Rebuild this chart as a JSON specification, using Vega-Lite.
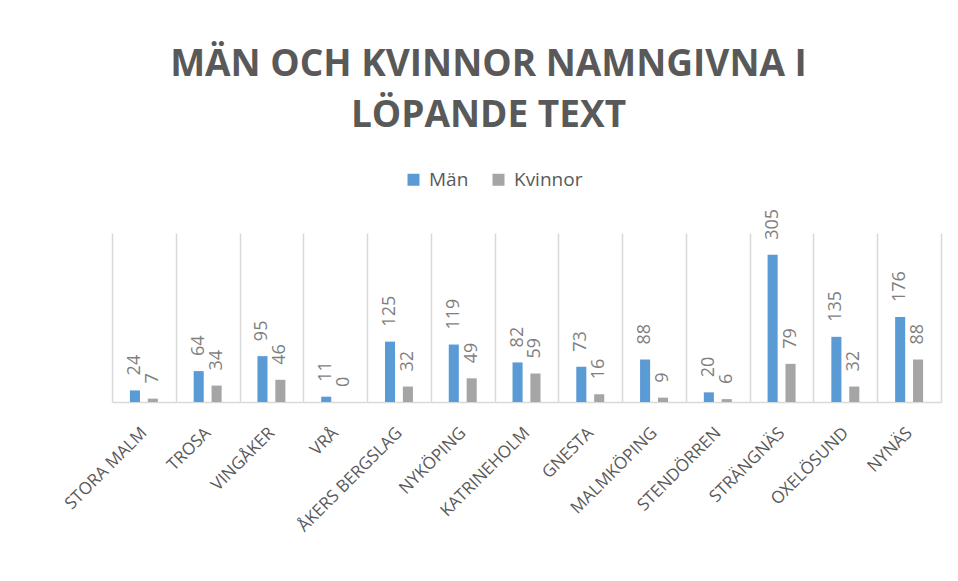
{
  "$schema": "https://vega.github.io/schema/vega-lite/v6.json",
  "width": 829,
  "height": 169,
  "autosize": {"type": "none"},
  "padding": {"left": 112, "top": 233, "right": 17, "bottom": 179},
  "background": "white",
  "title": {
    "text": ["MÄN OCH KVINNOR NAMNGIVNA I", "LÖPANDE TEXT"],
    "font": "Open Sans",
    "fontSize": 37,
    "fontWeight": "bold",
    "color": "#595959",
    "anchor": "middle",
    "lineHeight": 51.5,
    "offset": 35,
    "dx": -38
  },
  "data": {
    "values": [
      {"kommun": "STORA MALM", "kon": "Män", "antal": 24},
      {"kommun": "STORA MALM", "kon": "Kvinnor", "antal": 7},
      {"kommun": "TROSA", "kon": "Män", "antal": 64},
      {"kommun": "TROSA", "kon": "Kvinnor", "antal": 34},
      {"kommun": "VINGÅKER", "kon": "Män", "antal": 95},
      {"kommun": "VINGÅKER", "kon": "Kvinnor", "antal": 46},
      {"kommun": "VRÅ", "kon": "Män", "antal": 11},
      {"kommun": "VRÅ", "kon": "Kvinnor", "antal": 0},
      {"kommun": "ÅKERS BERGSLAG", "kon": "Män", "antal": 125},
      {"kommun": "ÅKERS BERGSLAG", "kon": "Kvinnor", "antal": 32},
      {"kommun": "NYKÖPING", "kon": "Män", "antal": 119},
      {"kommun": "NYKÖPING", "kon": "Kvinnor", "antal": 49},
      {"kommun": "KATRINEHOLM", "kon": "Män", "antal": 82},
      {"kommun": "KATRINEHOLM", "kon": "Kvinnor", "antal": 59},
      {"kommun": "GNESTA", "kon": "Män", "antal": 73},
      {"kommun": "GNESTA", "kon": "Kvinnor", "antal": 16},
      {"kommun": "MALMKÖPING", "kon": "Män", "antal": 88},
      {"kommun": "MALMKÖPING", "kon": "Kvinnor", "antal": 9},
      {"kommun": "STENDÖRREN", "kon": "Män", "antal": 20},
      {"kommun": "STENDÖRREN", "kon": "Kvinnor", "antal": 6},
      {"kommun": "STRÄNGNÄS", "kon": "Män", "antal": 305},
      {"kommun": "STRÄNGNÄS", "kon": "Kvinnor", "antal": 79},
      {"kommun": "OXELÖSUND", "kon": "Män", "antal": 135},
      {"kommun": "OXELÖSUND", "kon": "Kvinnor", "antal": 32},
      {"kommun": "NYNÄS", "kon": "Män", "antal": 176},
      {"kommun": "NYNÄS", "kon": "Kvinnor", "antal": 88}
    ]
  },
  "encoding": {
    "x": {
      "field": "kommun",
      "type": "nominal",
      "sort": null,
      "scale": {"paddingInner": 0, "paddingOuter": 0},
      "axis": {
        "title": null,
        "labelAngle": -45,
        "labelAlign": "right",
        "labelBaseline": "middle",
        "labelPadding": 28,
        "labelFont": "Open Sans",
        "labelFontSize": 17,
        "labelColor": "#595959",
        "ticks": false,
        "tickBand": "extent",
        "grid": true,
        "gridColor": "#d9d9d9",
        "gridWidth": 1.5,
        "domainColor": "#d9d9d9",
        "domainWidth": 1.5
      }
    },
    "xOffset": {
      "field": "kon",
      "type": "nominal",
      "sort": ["Män", "Kvinnor"],
      "scale": {"paddingInner": 0.4375, "paddingOuter": 1.21}
    },
    "y": {
      "field": "antal",
      "type": "quantitative",
      "scale": {"domain": [0, 350]},
      "axis": null
    }
  },
  "layer": [
    {
      "mark": {"type": "bar"},
      "encoding": {
        "color": {
          "field": "kon",
          "type": "nominal",
          "sort": ["Män", "Kvinnor"],
          "scale": {"domain": ["Män", "Kvinnor"], "range": ["#5B9BD5", "#A5A5A5"]},
          "legend": {
            "title": null,
            "orient": "none",
            "direction": "horizontal",
            "legendX": 292,
            "legendY": -63,
            "symbolType": "square",
            "symbolSize": 144,
            "symbolStrokeWidth": 0,
            "labelFont": "Open Sans",
            "labelFontSize": 19,
            "labelColor": "#595959",
            "labelOffset": 6,
            "columnPadding": 20
          }
        }
      }
    },
    {
      "mark": {
        "type": "text",
        "angle": 270,
        "align": "left",
        "baseline": "middle",
        "dx": 15,
        "font": "Open Sans",
        "fontSize": 18,
        "color": "#7F7F7F"
      },
      "encoding": {
        "text": {"field": "antal", "type": "quantitative"}
      }
    }
  ],
  "config": {
    "view": {"stroke": null}
  }
}
